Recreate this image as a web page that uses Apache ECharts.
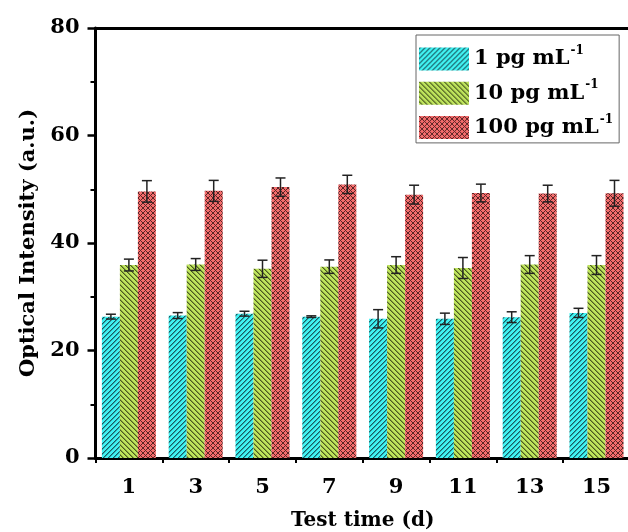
<!DOCTYPE html>
<html>
<head>
<meta charset="utf-8">
<script src="https://cdn.jsdelivr.net/npm/echarts@6/dist/echarts.min.js"></script>
<style>
html,body{margin:0;padding:0;background:#fff;}
#chart{width:628px;height:532px;}
</style>
</head>
<body>
<div id="chart"></div>
<script>
const days = ['1', '3', '5', '7', '9', '11', '13', '15'];
const seriesNames = ['1 pg mL-1', '10 pg mL-1', '100 pg mL-1'];
const mean1 = [26.3, 26.5, 26.85, 26.3, 25.9, 25.9, 26.2, 27.0];
const err1 = [0.45, 0.55, 0.45, 0.15, 1.7, 1.05, 1.0, 0.85];
const mean10 = [35.9, 36.0, 35.2, 35.6, 35.9, 35.35, 36.0, 35.9];
const err10 = [1.1, 1.1, 1.6, 1.25, 1.55, 1.95, 1.65, 1.75];
const mean100 = [49.6, 49.7, 50.4, 50.9, 49.0, 49.3, 49.2, 49.25];
const err100 = [2.0, 1.95, 1.7, 1.7, 1.75, 1.65, 1.55, 2.4];
const yTicks = [0, 20, 40, 60, 80];

const FONT = '"DejaVu Serif", "Liberation Serif", serif';
const BAR_W = 18;

function makePattern(bg, fg, mid, mode) {
  const n = 5;
  const c = document.createElement('canvas');
  c.width = n; c.height = n;
  const ctx = c.getContext('2d');
  ctx.fillStyle = bg;
  ctx.fillRect(0, 0, n, n);
  const mod = (a) => ((a % n) + n) % n;
  for (let x = 0; x < n; x++) {
    for (let y = 0; y < n; y++) {
      let col = null;
      if (mode === 'fwd') {
        const k = mod(x + y);
        if (k === 0) col = fg; else if (k === 1) col = mid;
      } else if (mode === 'back') {
        const k = mod(x - y);
        if (k === 0) col = fg; else if (k === 1) col = mid;
      } else {
        const a = mod(x + y), b = mod(x - y);
        if (a === 0 || b === 0) col = fg;
      }
      if (col) { ctx.fillStyle = col; ctx.fillRect(x, y, 1, 1); }
    }
  }
  return { image: c, repeat: 'repeat' };
}

const patterns = [
  makePattern('#40F2F2', '#1a5a60', '#2aa5aa', 'fwd'),
  makePattern('#BEE45C', '#4a5a20', '#84a03e', 'back'),
  makePattern('#F46C6C', '#5a2626', '#a84848', 'cross')
];
const means = [mean1, mean10, mean100];
const errs = [err1, err10, err100];

const barSeries = means.map((m, s) => ({
  name: seriesNames[s],
  type: 'bar',
  xAxisIndex: 0,
  yAxisIndex: 0,
  barWidth: BAR_W,
  barGap: '0%',
  itemStyle: { color: patterns[s] },
  data: m,
  z: 2
}));

const errSeries = means.map((m, s) => ({
  type: 'custom',
  xAxisIndex: 0,
  yAxisIndex: 0,
  z: 5,
  silent: true,
  encode: { x: 0, y: 1 },
  data: m.map((v, i) => [i, v, errs[s][i]]),
  renderItem: function (params, api) {
    const i = api.value(0), v = api.value(1), e = api.value(2);
    const off = (s - 1) * BAR_W;
    const x = api.coord([i, v])[0] + off;
    const yt = api.coord([i, v + e])[1];
    const yb = api.coord([i, v - e])[1];
    const st = { stroke: '#222', lineWidth: 1.5 };
    return {
      type: 'group',
      children: [
        { type: 'line', shape: { x1: x, y1: yt, x2: x, y2: yb }, style: st },
        { type: 'line', shape: { x1: x - 5, y1: yt, x2: x + 5, y2: yt }, style: st },
        { type: 'line', shape: { x1: x - 5, y1: yb, x2: x + 5, y2: yb }, style: st }
      ]
    };
  }
}));

const chart = echarts.init(document.getElementById('chart'), null, { renderer: 'canvas' });
chart.setOption({
  animation: false,
  backgroundColor: '#fff',
  grid: { left: 95.5, top: 28, width: 534.4, height: 430, containLabel: false, outerBoundsMode: 'none' },
  legend: {
    orient: 'vertical',
    left: 416,
    top: 35,
    data: seriesNames,
    icon: 'rect',
    itemWidth: 50,
    itemHeight: 23,
    itemGap: 8.7,
    padding: [10, 6, 4, 3],
    borderColor: '#666',
    borderWidth: 1,
    backgroundColor: '#fff',
    formatter: function (name) {
      return '{t|' + name.replace(/-1$/, '') + '}{s|-1}';
    },
    textStyle: {
      rich: {
        t: { fontFamily: FONT, fontWeight: 'bold', fontSize: 21, color: '#000', lineHeight: 28 },
        s: { fontFamily: FONT, fontWeight: 'bold', fontSize: 12, color: '#000', verticalAlign: 'top', lineHeight: 28, padding: [0, 0, 12, 1] }
      }
    }
  },
  xAxis: [
    {
      type: 'category',
      data: days,
      position: 'bottom',
      axisLine: { lineStyle: { color: '#000', width: 3 } },
      axisTick: { alignWithLabel: true, length: 9, lineStyle: { color: '#000', width: 2.5 } },
      axisLabel: { fontFamily: FONT, fontWeight: 'bold', fontSize: 21, color: '#000', margin: 19 },
      name: 'Test time (d)',
      nameLocation: 'middle',
      nameGap: 53,
      nameTextStyle: { fontFamily: FONT, fontWeight: 'bold', fontSize: 20, color: '#000' }
    },
    {
      type: 'category',
      data: days,
      position: 'bottom',
      axisLine: { show: false },
      axisTick: { show: true, length: 5, lineStyle: { color: '#000', width: 2 } },
      axisLabel: { show: false }
    },
    {
      type: 'category',
      data: days,
      position: 'top',
      axisLine: { lineStyle: { color: '#000', width: 3 } },
      axisTick: { show: false },
      axisLabel: { show: false }
    }
  ],
  yAxis: {
    type: 'value',
    min: yTicks[0],
    max: yTicks[yTicks.length - 1],
    interval: yTicks[1] - yTicks[0],
    axisLine: { show: true, lineStyle: { color: '#000', width: 3 } },
    axisTick: { show: true, length: 8, lineStyle: { color: '#000', width: 2.5 } },
    minorTick: { show: true, splitNumber: 2, length: 5, lineStyle: { color: '#000', width: 2 } },
    splitLine: { show: false },
    axisLabel: { fontFamily: FONT, fontWeight: 'bold', fontSize: 21, color: '#000', margin: 16 },
    name: 'Optical Intensity (a.u.)',
    nameLocation: 'middle',
    nameGap: 56,
    nameTextStyle: { fontFamily: FONT, fontWeight: 'bold', fontSize: 21, color: '#000' }
  },
  series: barSeries.concat(errSeries)
});
</script>
</body>
</html>
